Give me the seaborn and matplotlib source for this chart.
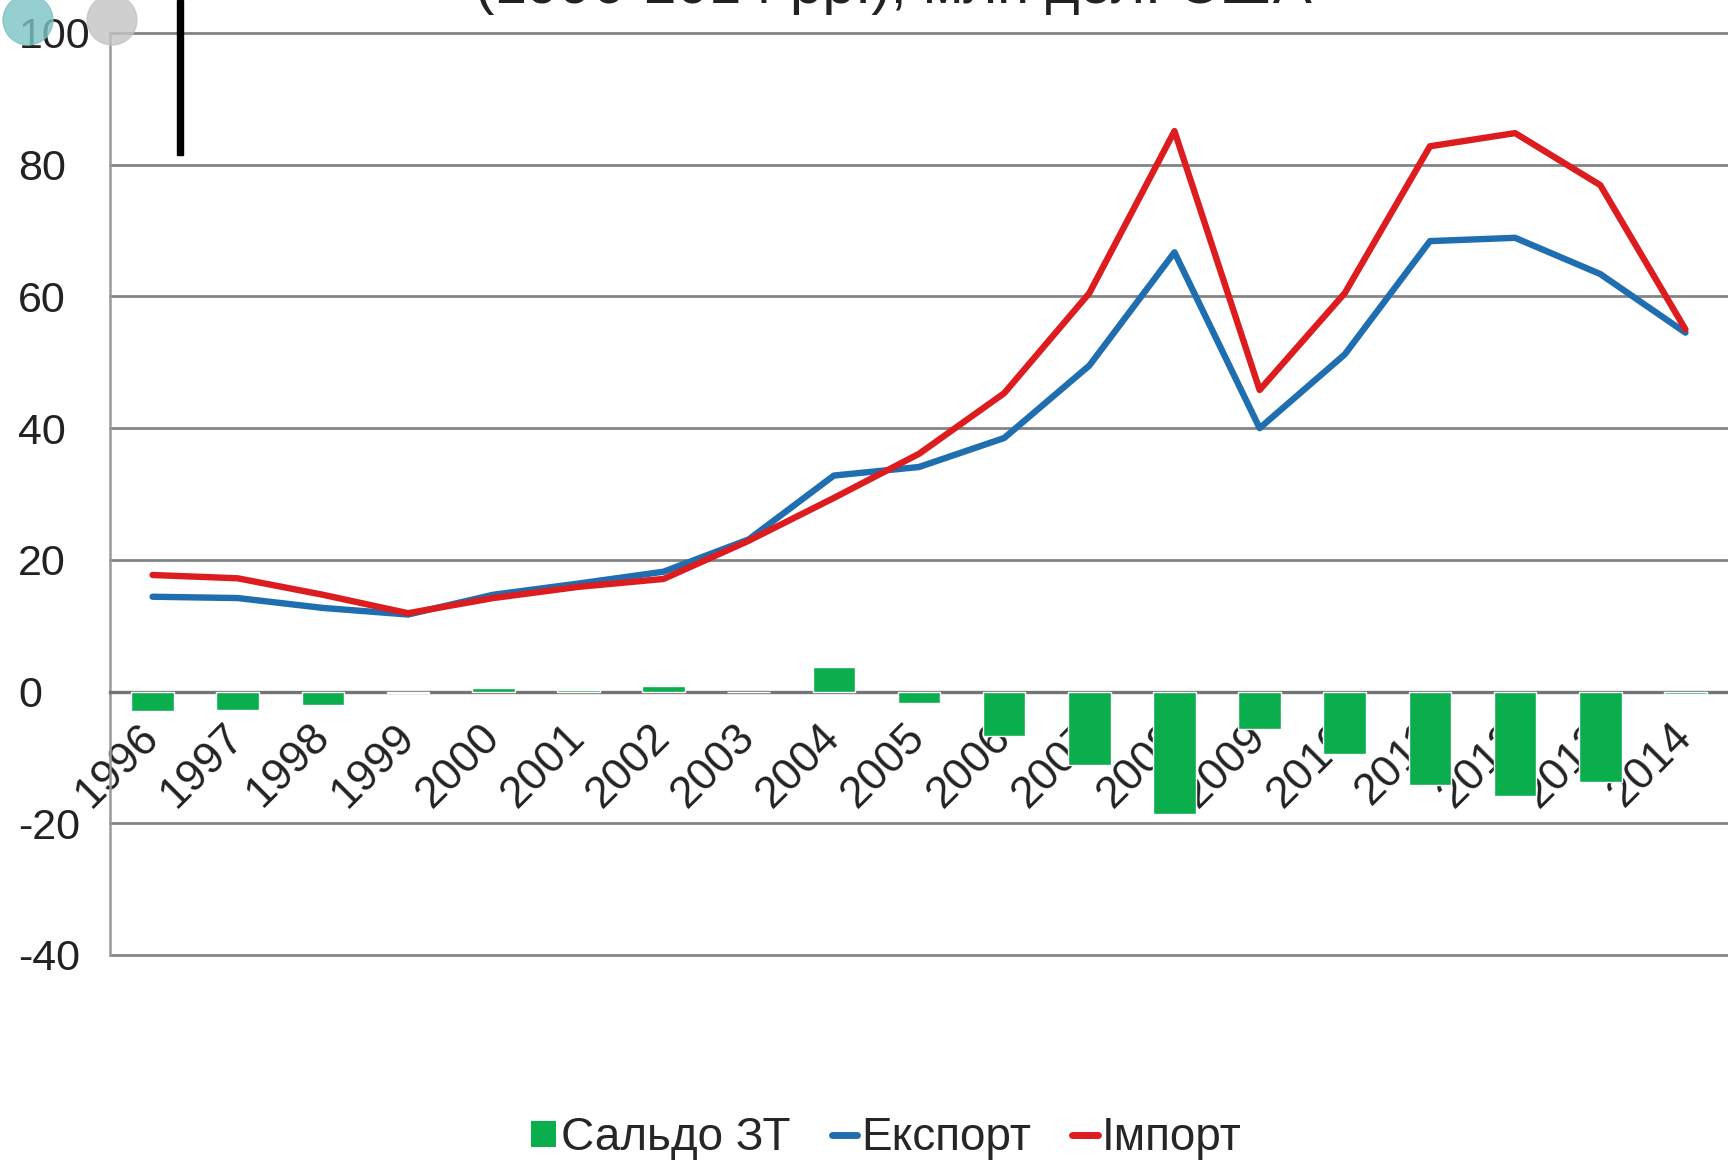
# Foreign trade of Ukraine with partner: export, import and balance, 1996-2014

import numpy as np
import pandas as pd
import matplotlib
matplotlib.use('Agg')
import matplotlib.pyplot as plt
from matplotlib.patches import Patch, Circle, Rectangle
from matplotlib.lines import Line2D
import seaborn as sns

# data
years = [str(y) for y in range(1996, 2015)]
export = [14.4, 14.2, 12.7, 11.7, 14.7, 16.4, 18.2, 23.1, 32.8, 34.1,
          38.5, 49.5, 66.7, 40.0, 51.2, 68.4, 68.9, 63.4, 54.5]
imports = [17.7, 17.2, 14.7, 11.9, 14.2, 15.9, 17.1, 22.9, 29.4, 36.1,
           45.3, 60.5, 85.1, 45.8, 60.5, 82.8, 84.8, 76.9, 55.0]
balance = [-3.0, -2.8, -2.0, -0.2, 0.5, 0.3, 0.9, 0.0, 3.7, -1.7,
           -6.7, -11.2, -18.6, -5.7, -9.5, -14.2, -15.9, -13.7, -0.4]
y_ticks = [-40, -20, 0, 20, 40, 60, 80, 100]
legend_labels = ['Сальдо ЗТ', 'Експорт', 'Імпорт']
title = '(1996-2014 рр.), млн дол. США'

green = '#0bae4c'
blue = '#1f6eb0'
red = '#dc1c1e'
grid_c = '#848484'

sns.set_style('white')
plt.rcParams['font.family'] = ['Liberation Sans', 'DejaVu Sans']
plt.rcParams['axes.unicode_minus'] = False
fs = 31

df = pd.DataFrame({'year': years, 'export': export,
                   'import': imports, 'balance': balance})
df['pos'] = np.arange(len(df))

fig = plt.figure(figsize=(17.28, 11.63), dpi=100)
ax = fig.add_axes([110 / 1728, 1 - 955 / 1163, 1 - 110 / 1728, (955 - 33) / 1163])

sns.barplot(data=df, x='year', y='balance', color=green, width=0.5,
            saturation=1, ax=ax, zorder=3)
sns.lineplot(data=df, x='pos', y='export', color=blue, lw=4.6, ax=ax,
             zorder=4)
sns.lineplot(data=df, x='pos', y='import', color=red, lw=4.6, ax=ax,
             zorder=5)

ax.set_xlim(-0.5, len(years) - 0.5)
ax.set_ylim(-40, 100)
ax.set_yticks(y_ticks)
ax.yaxis.grid(True, color=grid_c, lw=2)
ax.set_axisbelow(True)
ax.set_xlabel('')
ax.set_ylabel('')
for gl in ax.get_ygridlines():
    gl.set_clip_on(False)

for s in ['top', 'right']:
    ax.spines[s].set_visible(False)
ax.spines['left'].set_color('#9a9a9a')
ax.spines['left'].set_linewidth(1.8)
ax.spines['bottom'].set_position(('data', 0))
ax.spines['bottom'].set_color('#747474')
ax.spines['bottom'].set_linewidth(2.4)

ax.tick_params(axis='y', length=0, pad=66, labelsize=fs, labelcolor='#222222')
for t in ax.get_yticklabels():
    t.set_horizontalalignment('left')
ax.set_xticks(range(len(years)))
ax.set_xticklabels(years)
ax.tick_params(axis='x', length=0, pad=28, labelsize=32, labelcolor='#222222')
for t in ax.get_xticklabels():
    t.set_rotation(45)
    t.set_rotation_mode('anchor')
    t.set_horizontalalignment('right')
    t.set_verticalalignment('center')

# title, mostly cut off by the top edge as in the screenshot
fig.text(0.517, 1 - 3 / 1163, title, ha='center', va='baseline',
         fontsize=42, color='#222222')

handles = [Patch(facecolor=green, edgecolor='none'),
           Line2D([], [], color=blue, lw=5),
           Line2D([], [], color=red, lw=5)]
fig.legend(handles, legend_labels, loc='center', ncol=3,
           bbox_to_anchor=(0.513, 1 - 1138 / 1163), frameon=False,
           fontsize=33, handlelength=0.55, handleheight=0.5,
           handletextpad=0.1, columnspacing=0.9)

# screenshot marks in the corner (pixel-based, in inches)
H = 11.63
fig.patches.append(Circle((0.28, H - 0.20), 0.25,
                          transform=fig.dpi_scale_trans, color='#7cc4c4',
                          alpha=0.8, zorder=10))
fig.patches.append(Circle((1.12, H - 0.20), 0.25,
                          transform=fig.dpi_scale_trans, color='#c4c4c4',
                          alpha=0.8, zorder=10))
fig.patches.append(Rectangle((1.77, H - 1.55), 0.06, 1.55,
                             transform=fig.dpi_scale_trans, color='black',
                             zorder=10))

fig.savefig('out.png', dpi=100)
